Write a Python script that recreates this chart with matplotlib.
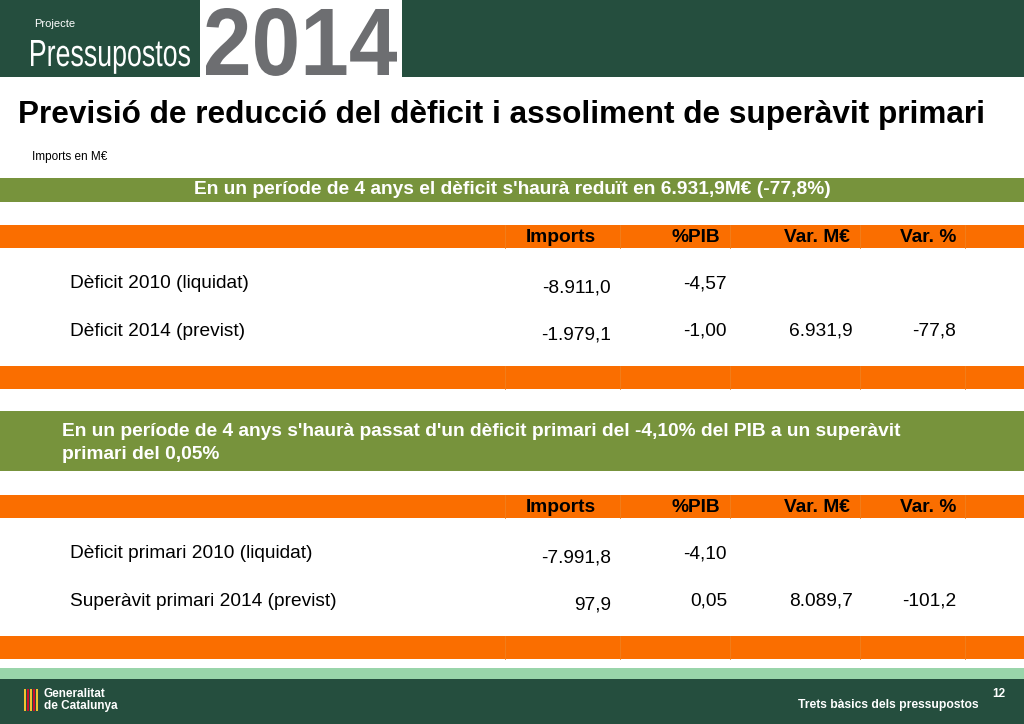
import matplotlib
matplotlib.use("Agg")
import matplotlib.pyplot as plt
from matplotlib.patches import Rectangle, PathPatch
from matplotlib.textpath import TextPath
from matplotlib.font_manager import FontProperties
from matplotlib.transforms import Affine2D

DARK = '#254E3E'
GREEN = '#77933C'
ORANGE = '#FA6E00'
GREY = '#6D6E71'

headers = ['Imports', '%PIB', 'Var. M€', 'Var. %']
t1_labels = ['Dèficit 2010 (liquidat)', 'Dèficit 2014 (previst)']
t1_imports = ['-8.911,0', '-1.979,1']
t1_pib = ['-4,57', '-1,00']
t1_varm = ['', '6.931,9']
t1_varp = ['', '-77,8']
t2_labels = ['Dèficit primari 2010 (liquidat)', 'Superàvit primari 2014 (previst)']
t2_imports = ['-7.991,8', '97,9']
t2_pib = ['-4,10', '0,05']
t2_varm = ['', '8.089,7']
t2_varp = ['', '-101,2']

plt.rcParams['font.family'] = 'Liberation Sans'
fig = plt.figure(figsize=(10.24, 7.24), dpi=100)
ax = fig.add_axes([0, 0, 1, 1])
ax.set_xlim(0, 1024)
ax.set_ylim(724, 0)
ax.axis('off')

def band(y0, y1, color, x0=0, x1=1024):
    ax.add_patch(Rectangle((x0, y0), x1 - x0, y1 - y0, color=color, lw=0))

def fitted_text(s, x0, x1, ybase, ytop, color, weight='normal'):
    # squeeze a text path into a box (condensed lettering)
    tp = TextPath((0, 0), s, size=100, prop=FontProperties(family='Liberation Sans', weight=weight))
    ext = tp.get_extents()
    sx = (x1 - x0) / ext.width
    sy = (ybase - ytop) / ext.y1
    tr = Affine2D().translate(-ext.x0, 0).scale(sx, -sy).translate(x0, ybase)
    ax.add_patch(PathPatch(tr.transform_path(tp), color=color, lw=0))

# header
band(0, 77, DARK)
band(0, 77, 'white', 200, 402)
ax.text(34, 24, 'Projecte', color='white', fontsize=8, va='center')
fitted_text('Pressupostos', 31, 190, 66, 40, 'white')
fitted_text('2014', 206, 397, 75, 8, GREY, weight='bold')

ax.text(18, 115, 'Previsió de reducció del dèficit i assoliment de superàvit primari',
        fontsize=22.7, fontweight='bold', va='center')
ax.text(32, 157, 'Imports en M€', fontsize=8.5, va='center')

col_x = [596, 720, 850, 956]
val_x = [611, 727, 853, 956]
seps = [505, 620, 730, 860, 965]
FS = 13.8

def table(y_head, rows_y, labels, cols, y_end):
    band(y_head - 12, y_head + 11, ORANGE)
    band(y_end - 12, y_end + 11, ORANGE)
    for s in seps:
        ax.plot([s, s], [y_head - 12, y_head + 11], color='#F08020', lw=0.6)
        ax.plot([s, s], [y_end - 12, y_end + 11], color='#F08020', lw=0.6)
    for h, x in zip(headers, col_x):
        ax.text(x, y_head, h, ha='right', va='center', fontsize=FS, fontweight='bold')
    for i, y in enumerate(rows_y):
        ax.text(70, y, labels[i], va='center', fontsize=FS)
        ax.text(val_x[0], y + 4, cols[0][i], ha='right', va='center', fontsize=FS)
        for c, x in zip(cols[1:], val_x[1:]):
            ax.text(x, y, c[i], ha='right', va='center', fontsize=FS)

band(178, 202, GREEN)
ax.text(512, 190, "En un període de 4 anys el dèficit s'haurà reduït en 6.931,9M€ (-77,8%)",
        color='white', fontsize=FS, fontweight='bold', ha='center', va='center')
table(237, [284, 331], t1_labels, [t1_imports, t1_pib, t1_varm, t1_varp], 378)

band(411, 471, GREEN)
ax.text(62, 443, "En un període de 4 anys s'haurà passat d'un dèficit primari del -4,10% del PIB a un superàvit\nprimari del 0,05%",
        color='white', fontsize=FS, fontweight='bold', va='center', linespacing=1.4)
table(507, [554, 601], t2_labels, [t2_imports, t2_pib, t2_varm, t2_varp], 648)

# footer
band(668, 679, '#99D5AA')
band(679, 724, DARK)
for k in range(5):
    ax.add_patch(Rectangle((24 + k * 3, 689), 2, 22, color='#C8102E' if k % 2 else '#F2C230', lw=0))
ax.text(44, 700, 'Generalitat\nde Catalunya', color='white', fontsize=8.5,
        fontweight='bold', va='center', linespacing=1.1)
ax.text(979, 705, 'Trets bàsics dels pressupostos', color='white', fontsize=8.7,
        fontweight='bold', ha='right', va='center')
ax.text(1005, 694, '12', color='white', fontsize=8.5, fontweight='bold', ha='right', va='center')

fig.savefig('out.png', dpi=100)
